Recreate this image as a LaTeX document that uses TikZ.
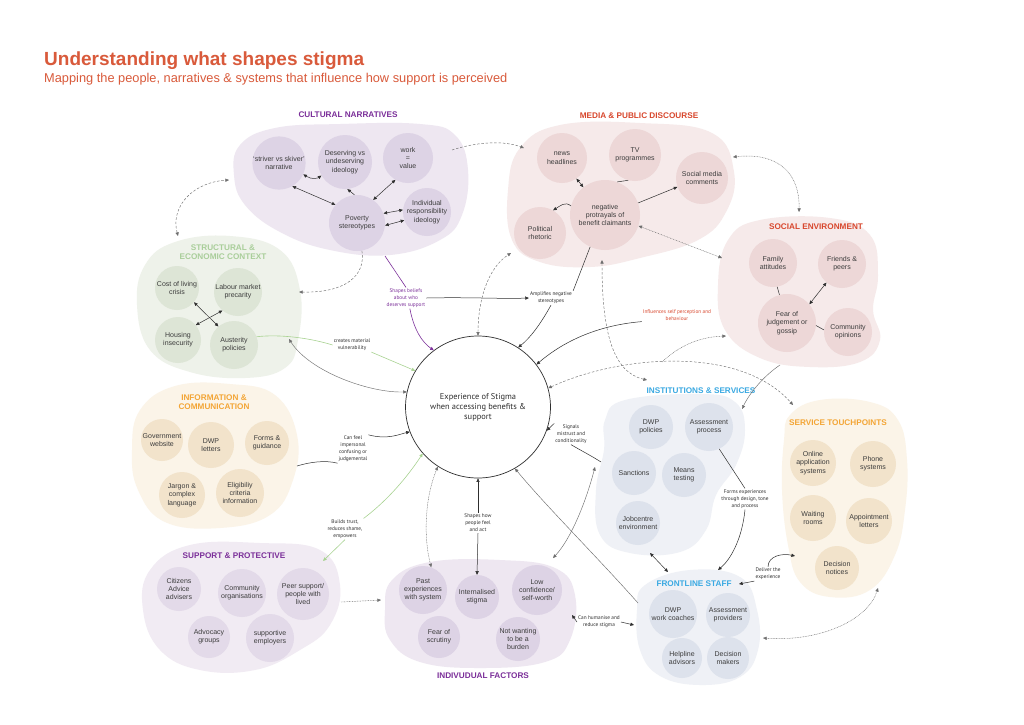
\documentclass[tikz,border=0pt]{standalone}
\usepackage{fontspec}
\setmainfont{Liberation Sans}
\newfontfamily\labelfont{PT Sans}
\usepackage{tikz}
\usetikzlibrary{shapes.geometric,arrows.meta}

\definecolor{titleorange}{HTML}{D95A3B}
\definecolor{purpletxt}{HTML}{7B2F99}
\definecolor{redtxt}{HTML}{D8472D}
\definecolor{greentxt}{HTML}{A9CE9A}
\definecolor{ambertxt}{HTML}{F3A535}
\definecolor{bluetxt}{HTML}{3AA9E2}
\definecolor{culbg}{HTML}{EEE7F1}
\definecolor{culfill}{HTML}{DDD3E5}
\definecolor{medbg}{HTML}{F6EAEA}
\definecolor{medfill}{HTML}{EDD7D7}
\definecolor{strbg}{HTML}{EEF2EA}
\definecolor{strfill}{HTML}{DDE5D6}
\definecolor{infbg}{HTML}{FBF4E8}
\definecolor{inffill}{HTML}{F2E3CB}
\definecolor{insbg}{HTML}{EFF1F6}
\definecolor{insfill}{HTML}{DDE2EC}
\definecolor{supbg}{HTML}{F1EBF3}
\definecolor{supfill}{HTML}{E3DAE9}
\definecolor{linkdark}{HTML}{2E2E2E}
\definecolor{linkfaint}{HTML}{6E6E6E}
\definecolor{linkgreen}{HTML}{A9D392}
\definecolor{nodetext}{HTML}{3C3C3C}

\begin{document}
\begin{tikzpicture}[x=1pt, y=-1pt,
    >={Triangle[length=3.6pt,width=3.2pt]},
    factor/.style={circle, inner sep=0pt, minimum size=46pt, align=center,
        text=nodetext, font=\fontsize{7}{8.3}\selectfont},
    grouptitle/.style={font=\bfseries\fontsize{8.2}{9.6}\selectfont, align=center},
    linklabel/.style={font=\labelfont\fontsize{5.3}{7}\selectfont, align=center,
        text=linkdark, inner sep=1pt},
    darkline/.style={draw=linkdark, line width=0.5pt},
    faintline/.style={draw=linkfaint, line width=0.45pt},
    greenline/.style={draw=linkgreen, line width=0.6pt},
    purpleline/.style={draw=purpletxt, line width=0.6pt},
    dashedline/.style={dash pattern=on 2.5pt off 1.8pt},
    dottedline/.style={dash pattern=on 0.8pt off 0.8pt}]

    \useasboundingbox[fill=white] (0,0) rectangle (1024,724);

    % Heading
    \node[anchor=base west, inner sep=0pt, text=titleorange, font=\bfseries\fontsize{19}{22}\selectfont]
        (heading) at (44,65) {Understanding what shapes stigma};
    \node[anchor=base west, inner sep=0pt, text=titleorange, font=\fontsize{12.8}{15}\selectfont]
        (subheading) at (44,82) {Mapping the people, narratives \& systems that influence how support is perceived};

    % Blobs behind each group
    \fill[culbg] plot[smooth cycle, tension=0.7] coordinates {(240,145) (275,128) (340,124) (420,124) (455,135) (468,170) (462,215) (440,240) (390,255) (330,250) (280,232) (245,205) (234,175)};
    \fill[medbg] plot[smooth cycle, tension=0.7] coordinates {(520,148) (560,125) (640,123) (712,133) (734,172) (726,212) (698,240) (640,258) (590,267) (540,262) (512,240) (508,190)};
    \fill[medbg] plot[smooth cycle, tension=0.7] coordinates {(728,240) (760,220) (830,218) (870,235) (878,275) (873,310) (880,340) (860,362) (810,367) (760,358) (725,330) (718,285)};
    \fill[strbg] plot[smooth cycle, tension=0.7] coordinates {(145,265) (175,242) (230,236) (280,250) (300,290) (298,340) (285,368) (245,378) (190,372) (150,350) (137,305)};
    \fill[infbg] plot[smooth cycle, tension=0.7] coordinates {(140,410) (175,386) (230,384) (275,395) (297,435) (293,480) (270,515) (220,528) (165,522) (138,490) (132,450)};
    \fill[supbg] plot[smooth cycle, tension=0.7] coordinates {(150,570) (190,545) (260,543) (320,550) (340,585) (330,625) (300,650) (255,670) (200,670) (160,650) (143,610)};
    \fill[culbg] plot[smooth cycle, tension=0.7] coordinates {(392,580) (430,562) (500,560) (555,568) (575,595) (570,640) (545,662) (480,668) (420,662) (390,640) (385,610)};
    \fill[insbg] plot[smooth cycle, tension=0.7] coordinates {(605,420) (625,400) (700,394) (735,402) (745,430) (736,465) (716,495) (706,530) (680,552) (630,553) (600,535) (596,490) (604,450)};
    \fill[infbg] plot[smooth cycle, tension=0.7] coordinates {(790,415) (820,400) (870,402) (898,420) (907,460) (905,510) (895,555) (870,590) (830,597) (800,582) (788,545) (782,490) (784,440)};
    \fill[insbg] plot[smooth cycle, tension=0.7] coordinates {(645,585) (690,570) (740,577) (757,610) (758,650) (740,677) (700,685) (660,676) (640,650) (637,610)};

    % Group titles
    \node[grouptitle, text=purpletxt] (cultitle) at (348,115) {CULTURAL NARRATIVES};
    \node[grouptitle, text=redtxt] (medtitle) at (639,116) {MEDIA \& PUBLIC DISCOURSE};
    \node[grouptitle, text=redtxt] (soctitle) at (816,227) {SOCIAL ENVIRONMENT};
    \node[grouptitle, text=greentxt] (strtitle) at (223,252) {STRUCTURAL \&\\ECONOMIC CONTEXT};
    \node[grouptitle, text=ambertxt] (inftitle) at (214,402) {INFORMATION \&\\COMMUNICATION};
    \node[grouptitle, text=purpletxt] (suptitle) at (234,556) {SUPPORT \& PROTECTIVE};
    \node[grouptitle, text=purpletxt] (indtitle) at (483,676) {INDIVUDUAL FACTORS};
    \node[grouptitle, text=bluetxt] (institle) at (701,391) {INSTITUTIONS \& SERVICES};
    \node[grouptitle, text=ambertxt] (svctitle) at (838,423) {SERVICE TOUCHPOINTS};
    \node[grouptitle, text=bluetxt] (frotitle) at (694,584) {FRONTLINE STAFF};

    % Cultural narratives
    \node[factor, fill=culfill] (striver) at (279,163) {‘striver vs skiver’\\narrative};
    \node[factor, fill=culfill, minimum size=54pt] (deserving) at (345,162) {Deserving vs\\undeserving\\ideology};
    \node[factor, fill=culfill, minimum size=50pt] (workvalue) at (408,158) {work\\=\\value};
    \node[factor, fill=culfill, minimum size=48pt] (responsibility) at (427,212) {Individual\\responsibility\\ideology};
    \node[factor, fill=culfill, minimum size=56pt] (poverty) at (357,223) {Poverty\\stereotypes};

    % Media & public discourse
    \node[factor, fill=medfill, minimum size=50pt] (news) at (562,158) {news\\headlines};
    \node[factor, fill=medfill, minimum size=52pt] (tv) at (635,155) {TV\\programmes};
    \node[factor, fill=medfill, minimum size=52pt] (socialmedia) at (702,178) {Social media\\comments};
    \node[factor, fill=medfill, minimum size=70pt] (negative) at (605,215) {negative\\protrayals of\\benefit claimants};
    \node[factor, fill=medfill, minimum size=52pt] (political) at (540,233) {Political\\rhetoric};

    % Social environment
    \node[factor, fill=medfill, minimum size=48pt] (family) at (773,263) {Family\\attitudes};
    \node[factor, fill=medfill, minimum size=48pt] (friends) at (842,264) {Friends \&\\peers};
    \node[factor, fill=medfill, minimum size=58pt] (fear) at (787,323) {Fear of\\judgement or\\gossip};
    \node[factor, fill=medfill, minimum size=48pt] (community) at (848,332) {Community\\opinions};

    % Structural & economic context
    \node[factor, fill=strfill, minimum size=44pt] (costliving) at (177,288) {Cost of living\\crisis};
    \node[factor, fill=strfill, minimum size=48pt] (labour) at (238,292) {Labour market\\precarity};
    \node[factor, fill=strfill] (housing) at (178,340) {Housing\\insecurity};
    \node[factor, fill=strfill, minimum size=48pt] (austerity) at (234,345) {Austerity\\policies};

    % Information & communication
    \node[factor, fill=inffill, minimum size=42pt] (govweb) at (162,440) {Government\\website};
    \node[factor, fill=inffill] (dwpletters) at (211,445) {DWP\\letters};
    \node[factor, fill=inffill, minimum size=44pt] (forms) at (267,443) {Forms \&\\guidance};
    \node[factor, fill=inffill] (jargon) at (182,495) {Jargon \&\\complex\\language};
    \node[factor, fill=inffill, minimum size=48pt] (eligibility) at (240,493) {Eligibiliy\\criteria\\information};

    % Support & protective
    \node[factor, fill=supfill, minimum size=44pt] (citizens) at (179,589) {Citizens\\Advice\\advisers};
    \node[factor, fill=supfill, minimum size=48pt] (communityorgs) at (242,593) {Community\\organisations};
    \node[factor, fill=supfill, minimum size=52pt] (peer) at (303,594) {Peer support/\\people with\\lived};
    \node[factor, fill=supfill, minimum size=42pt] (advocacy) at (209,637) {Advocacy\\groups};
    \node[factor, fill=supfill, minimum size=48pt] (employers) at (270,638) {supportive\\employers};

    % Individual factors
    \node[factor, fill=culfill, minimum size=48pt] (past) at (423,590) {Past\\experiences\\with system};
    \node[factor, fill=culfill, minimum size=44pt] (internalised) at (477,597) {Internalised\\stigma};
    \node[factor, fill=culfill, minimum size=50pt] (lowconf) at (537,590) {Low\\confidence/\\self-worth};
    \node[factor, fill=culfill, minimum size=42pt] (scrutiny) at (439,637) {Fear of\\scrutiny};
    \node[factor, fill=culfill, minimum size=44pt] (burden) at (518,639) {Not wanting\\to be a\\burden};

    % Institutions & services
    \node[factor, fill=insfill, minimum size=44pt] (dwppolicies) at (651,427) {DWP\\policies};
    \node[factor, fill=insfill, minimum size=48pt] (assessment) at (709,427) {Assessment\\process};
    \node[factor, fill=insfill, minimum size=44pt] (sanctions) at (634,473) {Sanctions};
    \node[factor, fill=insfill, minimum size=44pt] (means) at (684,475) {Means\\testing};
    \node[factor, fill=insfill, minimum size=44pt] (jobcentre) at (638,523) {Jobcentre\\environment};

    % Service touchpoints
    \node[factor, fill=inffill] (online) at (813,463) {Online\\application\\systems};
    \node[factor, fill=inffill] (phone) at (873,464) {Phone\\systems};
    \node[factor, fill=inffill] (waiting) at (813,518) {Waiting\\rooms};
    \node[factor, fill=inffill] (appointment) at (869,521) {Appointment\\letters};
    \node[factor, fill=inffill, minimum size=44pt] (notices) at (837,568) {Decision\\notices};

    % Frontline staff
    \node[factor, fill=insfill, minimum size=48pt] (coaches) at (673,614) {DWP\\work coaches};
    \node[factor, fill=insfill, minimum size=44pt] (providers) at (728,615) {Assessment\\providers};
    \node[factor, fill=insfill, minimum size=40pt] (helpline) at (682,658) {Helpline\\advisors};
    \node[factor, fill=insfill, minimum size=42pt] (makers) at (728,658) {Decision\\makers};

    % The experience in the middle
    \node[ellipse, draw=linkdark, line width=0.7pt, minimum width=122pt, minimum height=142pt,
        align=center, font=\labelfont\fontsize{8.4}{10}\selectfont, text=linkdark]
        (stigma) at (478,407) {Experience of Stigma\\when accessing benefits \&\\support};

    % Connector labels
    \node[linklabel, text=purpletxt] (beliefs) at (406,298) {Shapes beliefs\\about who\\deserves support};
    \node[linklabel] (amplifies) at (551,298) {Amplifies negative\\stereotypes};
    \node[linklabel, text=redtxt] (influences) at (677,315) {Influences self perception and\\behaviour};
    \node[linklabel] (creates) at (352,345) {creates material\\vulnerability};
    \node[linklabel] (canfeel) at (353,449) {Can feel\\impersonal\\confusing or\\judgemental};
    \node[linklabel] (signals) at (571,434) {Signals\\mistrust and\\conditionality};
    \node[linklabel] (builds) at (345,529) {Builds trust,\\reduces shame,\\empowers};
    \node[linklabel] (shapeshow) at (478,523) {Shapes how\\people feel\\and act};
    \node[linklabel] (formsexp) at (745,499) {Forms experiences\\through design, tone\\and process};
    \node[linklabel] (humanise) at (599,622) {Can humanise and\\reduce stigma};
    \node[linklabel] (deliver) at (768,574) {Deliver the\\experience};

    % Blob edge points
    \coordinate (culE) at (452,150);
    \coordinate (culW) at (229,180);
    \coordinate (culS) at (385,256);
    \coordinate (medW) at (524,148);
    \coordinate (medS) at (511,253);
    \coordinate (medB) at (602,260);
    \coordinate (medE) at (733,157);
    \coordinate (socN) at (799,212);
    \coordinate (socW) at (722,258);
    \coordinate (socSW) at (726,336);
    \coordinate (socS) at (780,365);
    \coordinate (strN) at (178,236);
    \coordinate (strE) at (299,292);
    \coordinate (strSE) at (289,339);
    \coordinate (infE) at (297,466);
    \coordinate (supN) at (323,561);
    \coordinate (supE) at (341,602);
    \coordinate (indW) at (381,600);
    \coordinate (indN) at (553,558);
    \coordinate (indE) at (572,615);
    \coordinate (insTop) at (647,380);
    \coordinate (insNW) at (662,362);
    \coordinate (insR) at (742,409);
    \coordinate (insW) at (595,467);
    \coordinate (insW2) at (601,462);
    \coordinate (insS) at (650,553);
    \coordinate (froTop) at (668,572);
    \coordinate (froN) at (718,570);
    \coordinate (froNE) at (739,584);
    \coordinate (froNW) at (638,603);
    \coordinate (froW) at (634,625);
    \coordinate (froE) at (763,638);
    \coordinate (svcNW) at (793,405);
    \coordinate (svcW) at (795,556);
    \coordinate (svcS) at (878,588);

    % Links inside the groups
    \draw[darkline, <->] (striver.-25) .. controls (312,180) and (318,178) .. (deserving.-150);
    \draw[darkline, <->] (striver.-60) -- (poverty.140);
    \draw[darkline, ->] (poverty.95) -- (deserving.-85);
    \draw[darkline, <->] (poverty.55) -- (workvalue.-120);
    \draw[darkline, <->] (poverty.20) -- (responsibility.175);
    \draw[darkline, <->] (poverty.-5) -- (responsibility.-160);
    \draw[darkline, <->] (news.-55) -- (negative.128);
    \draw[darkline] (tv.-105) -- (negative.70);
    \draw[darkline, ->] (negative.20) -- (socialmedia.-160);
    \draw[darkline, ->] (negative.165) .. controls (565,201) and (560,206) .. (political.60);
    \draw[darkline] (family.-80) -- (fear.105);
    \draw[darkline, <->] (fear.40) -- (friends.-130);
    \draw[darkline] (fear.-5) -- (community.175);
    \draw[darkline, <->] (costliving.-40) -- (austerity.130);
    \draw[darkline, <->] (labour.-130) -- (housing.40);

    % Links between groups
    \draw[faintline, dashedline, ->] (culE) .. controls (480,141) and (505,141) .. (medW);
    \draw[faintline, dashedline, <->] (strN) .. controls (170,205) and (195,182) .. (culW);
    \draw[faintline, dashedline, ->] (poverty.-80) .. controls (366,276) and (345,293) .. (strE);
    \draw[faintline, dottedline, <->] (negative.-18) -- (socW);
    \draw[faintline, dottedline, <->] (medE) .. controls (780,152) and (800,175) .. (socN);
    \draw[faintline, dashedline, <->] (medB) .. controls (602,330) and (612,372) .. (insTop);
    \draw[faintline, dottedline, ->] (insNW) .. controls (680,345) and (700,337) .. (socSW);
    \draw[faintline, ->] (socS) .. controls (765,375) and (750,392) .. (insR);
    \draw[faintline, dottedline, ->] (supE) -- (indW);
    \draw[faintline, <->] (insW) .. controls (585,505) and (570,540) .. (indN);
    \draw[darkline, <->] (insS) -- (froTop);
    \draw[faintline, dottedline, <->] (froE) .. controls (820,642) and (868,620) .. (svcS);

    % Links into the experience
    \draw[purpleline] (culS) -- (beliefs.north);
    \draw[purpleline, ->] (beliefs.-70) .. controls (414,330) and (422,342) .. (stigma.128);
    \draw[darkline, ->] (beliefs.east) .. controls (470,297) and (500,299) .. (amplifies.west);
    \draw[darkline] (negative.-115) -- (amplifies.north east);
    \draw[darkline, ->] (amplifies.south) .. controls (540,325) and (530,338) .. (stigma.56);
    \draw[faintline, dashedline, <->] (stigma.90) .. controls (478,300) and (488,268) .. (medS);
    \draw[darkline, ->] (influences.south west) .. controls (600,325) and (565,340) .. (stigma.36);
    \draw[faintline, dashedline, <->] (stigma.15) .. controls (620,355) and (740,345) .. (svcNW);
    \draw[faintline, <->] (strSE) .. controls (310,372) and (370,393) .. (stigma.168);
    \draw[greenline] (austerity.20) .. controls (280,334) and (310,338) .. (creates.west);
    \draw[greenline, ->] (creates.south east) -- (stigma.150);
    \draw[darkline] (infE) .. controls (310,462) and (325,460) .. (canfeel.south west);
    \draw[darkline, ->] (canfeel.north east) .. controls (388,440) and (400,434) .. (stigma.200);
    \draw[greenline, ->] (builds.north east) .. controls (392,497) and (412,470) .. (stigma.220);
    \draw[greenline, ->] (builds.south) -- (supN);
    \draw[faintline, dottedline, <->] (stigma.236) .. controls (424,500) and (424,540) .. (past.70);
    \draw[darkline, ->] (shapeshow.north) -- (stigma.270);
    \draw[darkline, ->] (shapeshow.south) -- (internalised.north);
    \draw[faintline, ->] (froNW) .. controls (600,560) and (545,505) .. (stigma.301);
    \draw[darkline, ->] (humanise.west) -- (indE);
    \draw[darkline, ->] (humanise.east) -- (froW);
    \draw[darkline] (insW2) .. controls (590,455) and (580,450) .. (signals.south);
    \draw[darkline, ->] (signals.north west) -- (stigma.341);
    \draw[darkline] (assessment.-65) -- (formsexp.north);
    \draw[darkline, ->] (formsexp.south) .. controls (742,540) and (730,560) .. (froN);
    \draw[darkline, ->] (deliver.south west) -- (froNE);
    \draw[darkline, ->] (deliver.north) .. controls (768,556) and (782,553) .. (svcW);
\end{tikzpicture}
\end{document}
